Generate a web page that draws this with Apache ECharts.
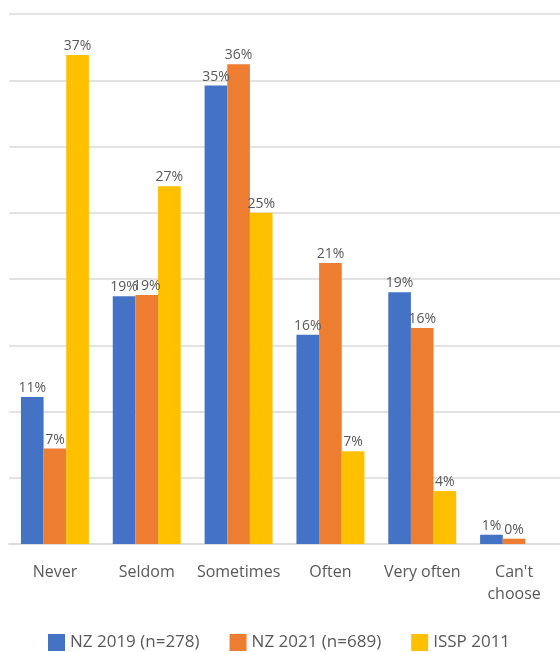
<!DOCTYPE html>
<html><head><meta charset="utf-8">
<script src="https://cdn.jsdelivr.net/npm/echarts@6/dist/echarts.min.js"></script>
<style>html,body{margin:0;padding:0;background:#fff}#c{width:560px;height:652px}</style>
</head><body><div id="c"></div>
<script>
const categories = ['Never', 'Seldom', 'Sometimes', 'Often', 'Very often', "Can't\nchoose"];
const nz2019 = [11.1, 18.7, 34.6, 15.8, 19.0, 0.7];
const nz2021 = [7.2, 18.8, 36.2, 21.2, 16.3, 0.4];
const issp2011 = [36.9, 27.0, 25.0, 7.0, 4.0, null];
const seriesNames = ['NZ 2019 (n=278)', 'NZ 2021 (n=689)', 'ISSP 2011'];
const colors = ['#4472C4', '#ED7D31', '#FFC000'];

const chart = echarts.init(document.getElementById('c'));
const font = 'Open Sans';
function mk(name, data, color) {
  return {
    name, type: 'bar', data, barGap: '0%', barCategoryGap: '26%',
    itemStyle: { color },
    label: { show: true, position: 'top', distance: 2, fontFamily: font, fontSize: 14, color: '#595959',
      formatter: p => p.value == null ? '' : Math.round(p.value) + '%' }
  };
}
chart.setOption({
  animation: false,
  grid: { left: 9, width: 555, top: 14, bottom: 108 },
  legend: { bottom: -4, left: 43, itemWidth: 17, itemHeight: 17, itemGap: 30, icon: 'rect',
    textStyle: { fontFamily: font, fontSize: 17, color: '#595959' } },
  xAxis: { type: 'category', data: categories,
    axisLine: { lineStyle: { color: '#d9d9d9', width: 1.5 } }, axisTick: { show: false },
    axisLabel: { interval: 0, fontFamily: font, fontSize: 16, color: '#595959', margin: 17, lineHeight: 22 } },
  yAxis: { type: 'value', min: 0, max: 40, interval: 5,
    axisLabel: { show: false }, axisLine: { show: false }, axisTick: { show: false },
    splitLine: { lineStyle: { color: '#d9d9d9', width: 1.5 } } },
  series: [mk(seriesNames[0], nz2019, colors[0]), mk(seriesNames[1], nz2021, colors[1]), mk(seriesNames[2], issp2011, colors[2])]
});
</script></body></html>
